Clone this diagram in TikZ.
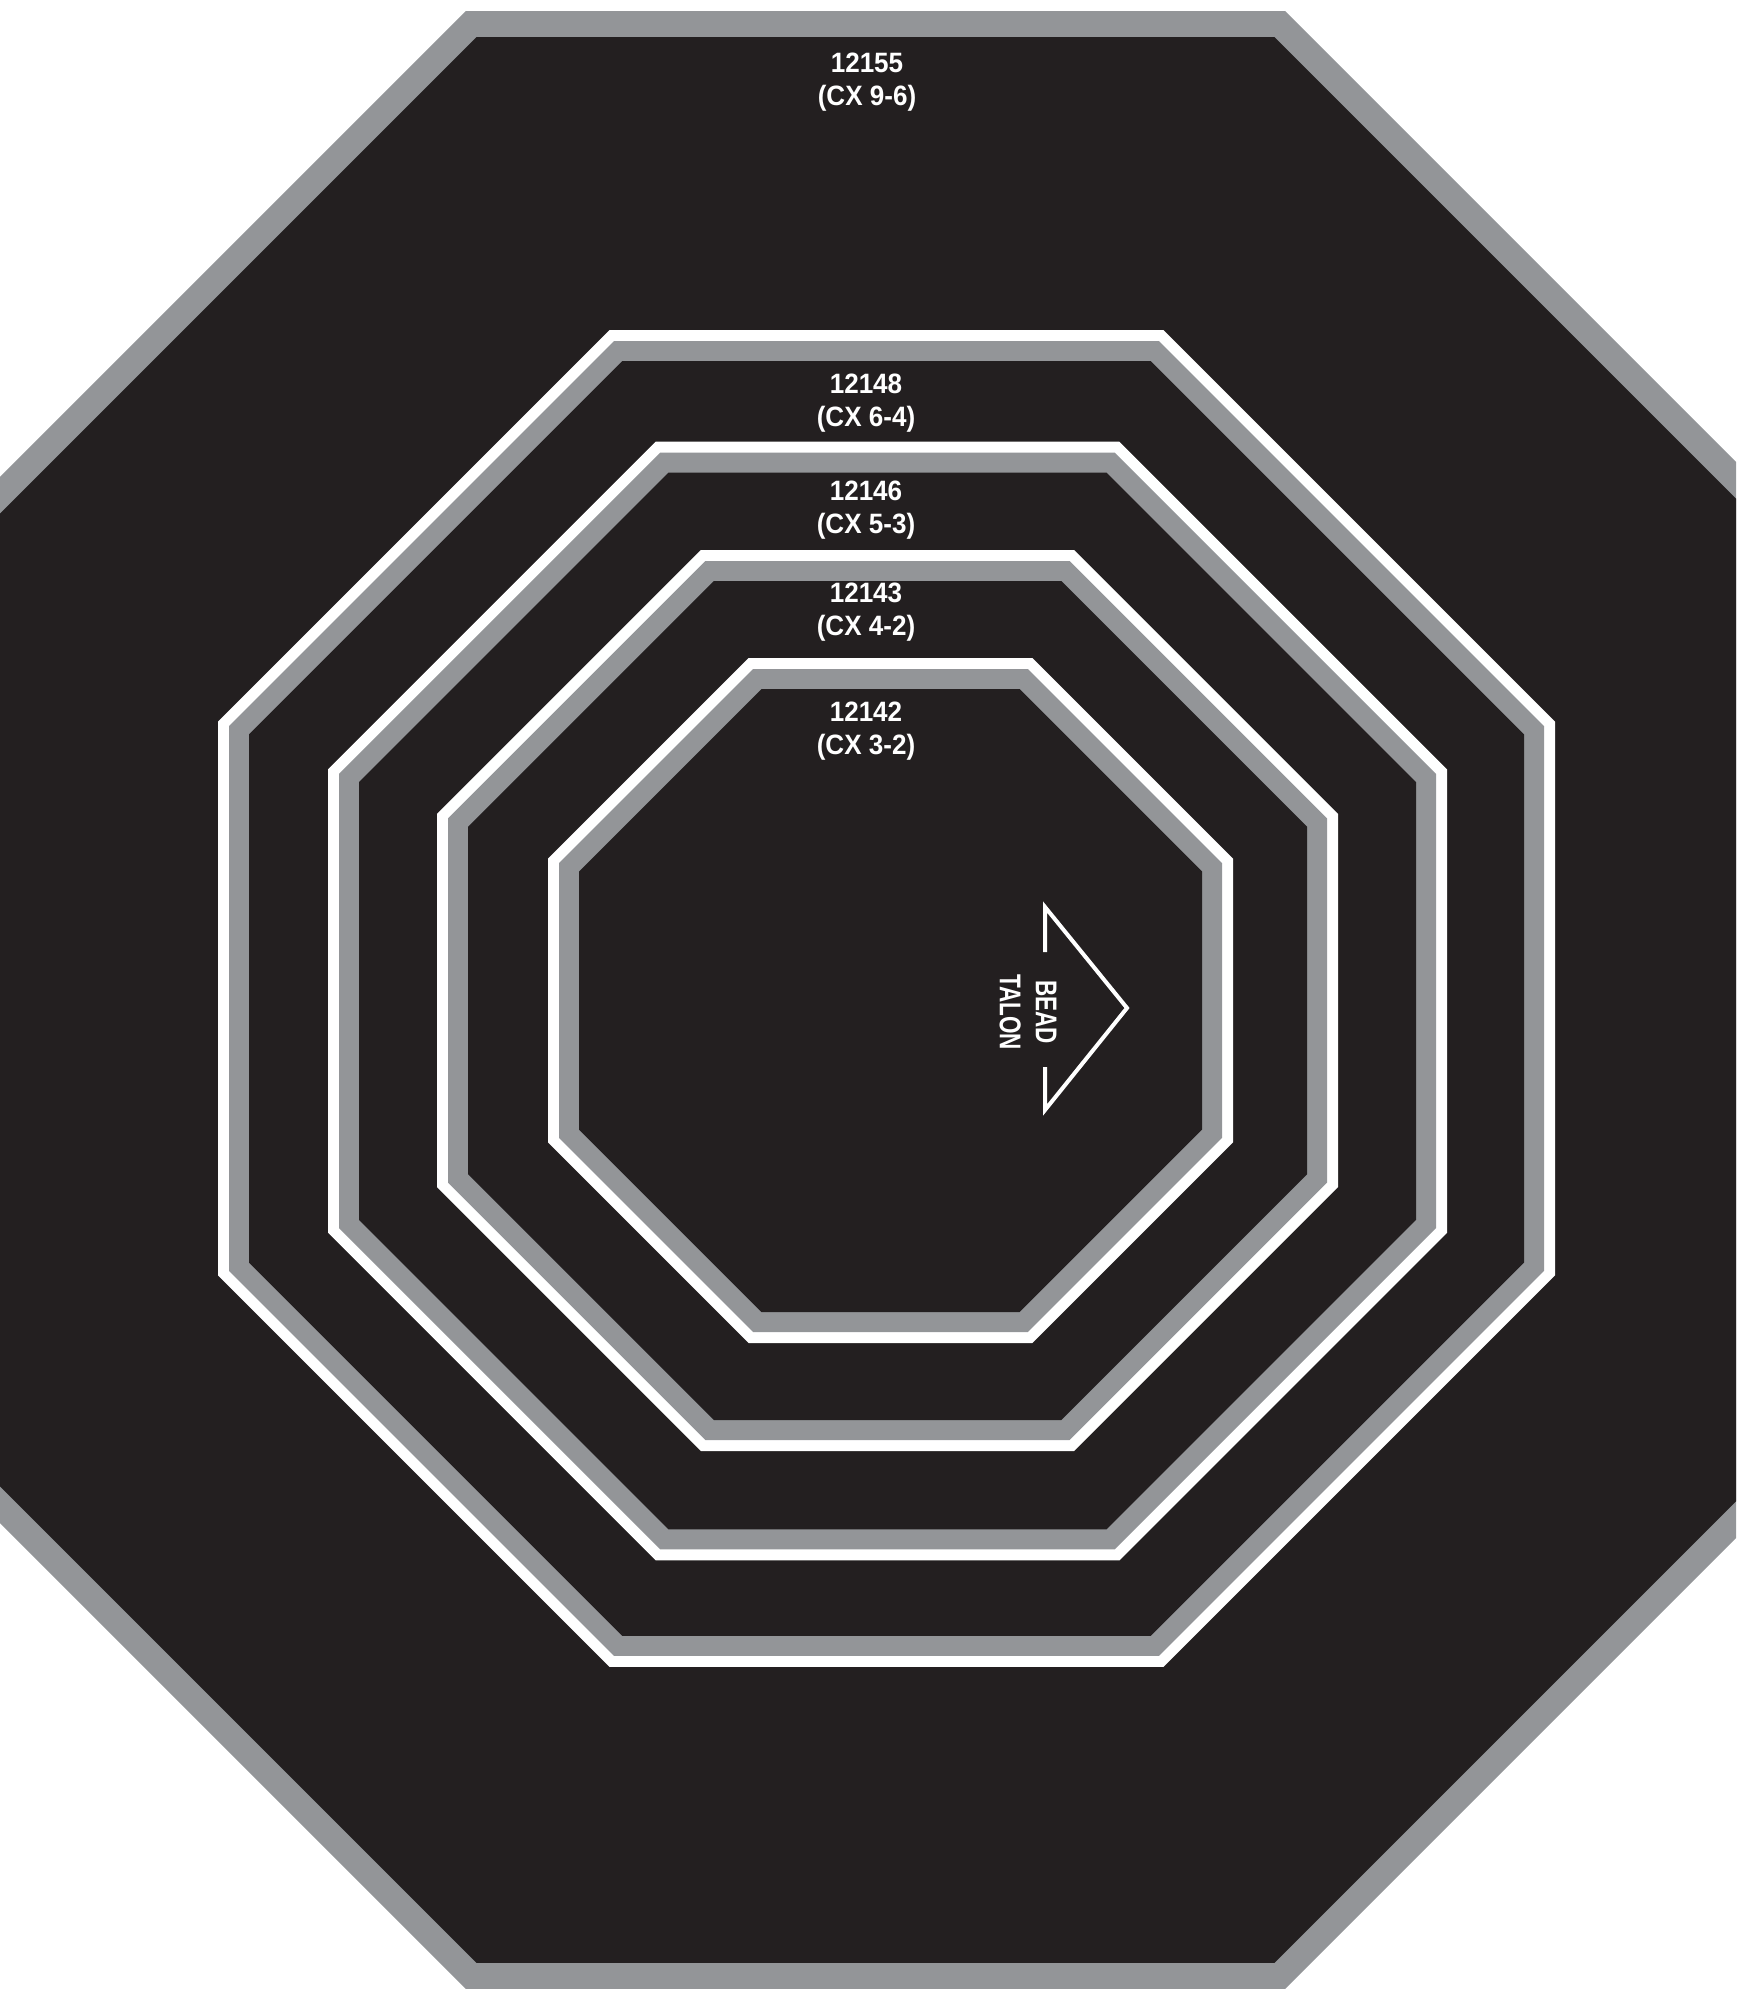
\documentclass[tikz,border=0pt]{standalone}
\usepackage{fontspec}
\newfontfamily\ringfont{Liberation Sans}[FakeStretch=0.93]
\newfontfamily\beadfont{Liberation Sans}[FakeStretch=0.75]
\definecolor{inkblack}{HTML}{231F20}
\definecolor{rimgray}{HTML}{939598}

% filled regular octagon: colour, centre x, centre y, apothem
\newcommand\octfill[4]{%
  \fill[#1,shift={(#2,#3)}] (22.5:{(#4)*1.08239})
    \foreach \k in {1,...,7}{ -- ({22.5+45*\k}:{(#4)*1.08239})} -- cycle;}
% white line, gray band, black inside
\newcommand\octring[3]{%
  \octfill{white}{#1}{#2}{#3}
  \octfill{rimgray}{#1}{#2}{#3-11}
  \octfill{inkblack}{#1}{#2}{#3-31}}

\begin{document}
\begin{tikzpicture}[x=0.5pt,y=-0.5pt,
    ringlabel/.style={text=white,align=center,inner sep=0pt,
      font={\ringfont\bfseries\fontsize{14}{16.5}\selectfont}},
    beadlabel/.style={text=white,align=center,inner sep=0pt,rotate=-90,
      font={\beadfont\bfseries\fontsize{15}{18}\selectfont}}]
  \useasboundingbox (0,0) rectangle (1736,2000);
  \fill[white] (0,0) rectangle (1736,2000);
  \clip (0,0) rectangle (1736,2000);

  % outer plate
  \octfill{rimgray}{875.5}{1000}{989}
  \octfill{inkblack}{875.5}{1000}{963}

  % inner rings
  \octring{886.5}{998.5}{668.5}
  \octring{887.5}{1001}{559.5}
  \octring{887.5}{1000.5}{450.5}
  \octring{890.5}{1000.5}{342.5}

  \node[ringlabel] (l12155) at (867,82) {12155\\(CX 9-6)};
  \node[ringlabel] (l12148) at (866,403) {12148\\(CX 6-4)};
  \node[ringlabel] (l12146) at (866,510) {12146\\(CX 5-3)};
  \node[ringlabel] (l12143) at (866,612) {12143\\(CX 4-2)};
  \node[ringlabel] (l12142) at (866,731) {12142\\(CX 3-2)};

  % arrow with text
  \node[beadlabel] (bead) at (1028,1012) {BEAD\\TALON};
  \coordinate (a1) at (1045,952);
  \coordinate (a2) at (1045,907);
  \coordinate (tip) at (1127,1008);
  \coordinate (a3) at (1045,1110);
  \coordinate (a4) at (1045,1067);
  \draw[white,line width=2pt] (a1) -- (a2) -- (tip) -- (a3) -- (a4);
\end{tikzpicture}
\end{document}
